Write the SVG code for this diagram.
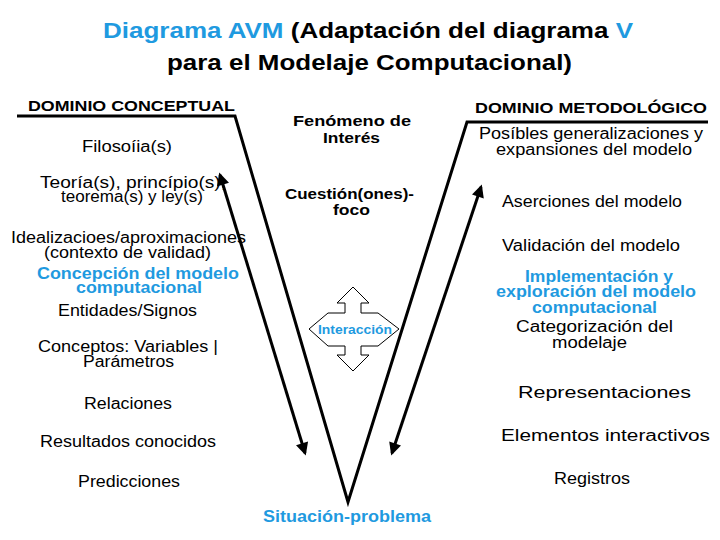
<svg xmlns="http://www.w3.org/2000/svg" width="720" height="540" viewBox="0 0 720 540">
<style>
text{font-family:"Liberation Sans",Arial,sans-serif;fill:#000}
.r{font-size:16px}
.b{font-size:15px;font-weight:bold}
.bl{font-size:16px;font-weight:bold;fill:#1f9ae0}
.t{font-size:22px;font-weight:bold}
.blue{fill:#1f9ae0}
.v{fill:none;stroke:#000;stroke-width:3;stroke-linejoin:miter}
.ar{fill:none;stroke:#000;stroke-width:3}
</style>
<defs>
<marker id="ah" viewBox="0 0 10 10" refX="8" refY="5" markerWidth="4.8" markerHeight="4.2" orient="auto-start-reverse" markerUnits="strokeWidth">
<path d="M0,0 L10,5 L0,10 z" fill="#000"/>
</marker>
</defs>
<rect width="720" height="540" fill="#fff"/>
<g id="title">
<text class="t" x="103" y="38" textLength="530" lengthAdjust="spacingAndGlyphs"><tspan class="blue">Diagrama AVM</tspan> (Adaptación del diagrama <tspan class="blue">V</tspan></text>
<text class="t" x="167" y="70" textLength="405" lengthAdjust="spacingAndGlyphs">para el Modelaje Computacional)</text>
</g>
<g id="connectors">
<polyline class="v" points="17,116 235,116 348,502 467,122 708,122"/>
<line class="ar" x1="305" y1="453" x2="220" y2="175" marker-start="url(#ah)" marker-end="url(#ah)"/>
<line class="ar" x1="392" y1="453" x2="481" y2="187" marker-start="url(#ah)" marker-end="url(#ah)"/>
</g>
<g id="conceptual">
<text class="b" x="28" y="111" textLength="207" lengthAdjust="spacingAndGlyphs">DOMINIO CONCEPTUAL</text>
<text class="r" x="82" y="152" textLength="90" lengthAdjust="spacingAndGlyphs">Filosoíia(s)</text>
<text class="r" x="40" y="188" textLength="186" lengthAdjust="spacingAndGlyphs">Teoría(s), princípio(s),</text>
<text class="r" x="61" y="202" textLength="142" lengthAdjust="spacingAndGlyphs">teorema(s) y ley(s)</text>
<text class="r" x="11" y="243" textLength="235" lengthAdjust="spacingAndGlyphs">Idealizacioes/aproximaciones</text>
<text class="r" x="44" y="258" textLength="167" lengthAdjust="spacingAndGlyphs">(contexto de validad)</text>
<text class="bl" x="37" y="279" textLength="202" lengthAdjust="spacingAndGlyphs">Concepción del modelo</text>
<text class="bl" x="76" y="293" textLength="126" lengthAdjust="spacingAndGlyphs">computacional</text>
<text class="r" x="58" y="316" textLength="139" lengthAdjust="spacingAndGlyphs">Entidades/Signos</text>
<text class="r" x="38" y="352" textLength="180" lengthAdjust="spacingAndGlyphs">Conceptos: Variables |</text>
<text class="r" x="83" y="367" textLength="91" lengthAdjust="spacingAndGlyphs">Parámetros</text>
<text class="r" x="84" y="409" textLength="88" lengthAdjust="spacingAndGlyphs">Relaciones</text>
<text class="r" x="40" y="447" textLength="176" lengthAdjust="spacingAndGlyphs">Resultados conocidos</text>
<text class="r" x="78" y="487" textLength="102" lengthAdjust="spacingAndGlyphs">Predicciones</text>
</g>
<g id="centre">
<text class="b" x="293" y="126" textLength="118" lengthAdjust="spacingAndGlyphs">Fenómeno de</text>
<text class="b" x="323" y="143" textLength="57" lengthAdjust="spacingAndGlyphs">Interés</text>
<text class="b" x="285" y="199" textLength="129" lengthAdjust="spacingAndGlyphs">Cuestión(ones)-</text>
<text class="b" x="333" y="215" textLength="37" lengthAdjust="spacingAndGlyphs">foco</text>
<text class="bl" x="263" y="522" textLength="168" lengthAdjust="spacingAndGlyphs">Situación-problema</text>
</g>
<g id="interaccion">
<polygon points="353,287 369,303 361,303 361,313 378,313 399,329 378,346 361,346 361,355 369,355 353,371 337,355 345,355 345,346 328,346 309,329 328,313 345,313 345,303 337,303" fill="#fff" stroke="#000" stroke-width="1"/>
<text class="bl" style="font-size:12px" x="318" y="334" textLength="74" lengthAdjust="spacingAndGlyphs">Interacción</text>
</g>
<g id="metodologico">
<text class="b" x="475" y="113" textLength="232" lengthAdjust="spacingAndGlyphs">DOMINIO METODOLÓGICO</text>
<text class="r" x="479" y="139" textLength="224" lengthAdjust="spacingAndGlyphs">Posíbles generalizaciones y</text>
<text class="r" x="496" y="155" textLength="196" lengthAdjust="spacingAndGlyphs">expansiones del modelo</text>
<text class="r" x="502" y="207" textLength="180" lengthAdjust="spacingAndGlyphs">Aserciones del modelo</text>
<text class="r" x="502" y="251" textLength="178" lengthAdjust="spacingAndGlyphs">Validación del modelo</text>
<text class="bl" x="525" y="282" textLength="148" lengthAdjust="spacingAndGlyphs">Implementación y</text>
<text class="bl" x="496" y="297" textLength="200" lengthAdjust="spacingAndGlyphs">exploración del modelo</text>
<text class="bl" x="532" y="313" textLength="125" lengthAdjust="spacingAndGlyphs">computacional</text>
<text class="r" x="516" y="332" textLength="157" lengthAdjust="spacingAndGlyphs">Categorización del</text>
<text class="r" x="552" y="348" textLength="75" lengthAdjust="spacingAndGlyphs">modelaje</text>
<text class="r" x="518" y="398" textLength="173" lengthAdjust="spacingAndGlyphs">Representaciones</text>
<text class="r" x="501" y="441" textLength="209" lengthAdjust="spacingAndGlyphs">Elementos interactivos</text>
<text class="r" x="554" y="484" textLength="76" lengthAdjust="spacingAndGlyphs">Registros</text>
</g>
</svg>
